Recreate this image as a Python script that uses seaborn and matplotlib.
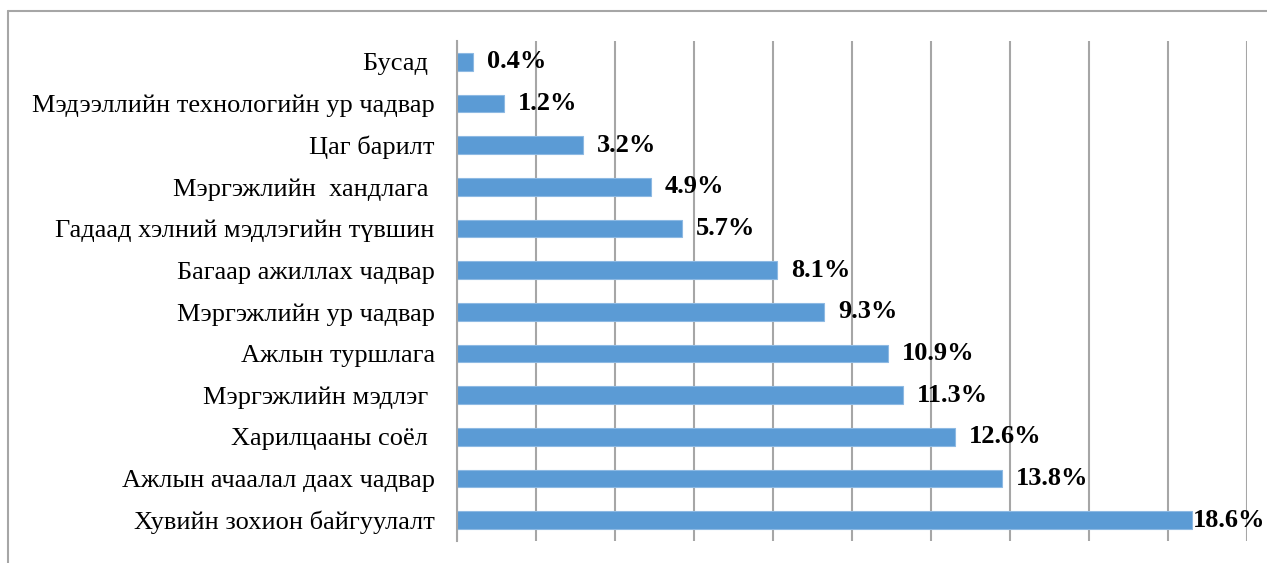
import matplotlib
matplotlib.use("Agg")
import matplotlib.pyplot as plt
import seaborn as sns
import pandas as pd
import numpy as np
from matplotlib.lines import Line2D

categories = [
    "Бусад ",
    "Мэдээллийн технологийн ур чадвар",
    "Цаг барилт",
    "Мэргэжлийн  хандлага ",
    "Гадаад хэлний мэдлэгийн түвшин",
    "Багаар ажиллах чадвар",
    "Мэргэжлийн ур чадвар",
    "Ажлын туршлага",
    "Мэргэжлийн мэдлэг ",
    "Харилцааны соёл ",
    "Ажлын ачаалал даах чадвар",
    "Хувийн зохион байгуулалт",
]
values = [0.4, 1.2, 3.2, 4.9, 5.7, 8.1, 9.3, 10.9, 11.3, 12.6, 13.8, 18.6]
labels = ["0.4%", "1.2%", "3.2%", "4.9%", "5.7%", "8.1%", "9.3%", "10.9%",
          "11.3%", "12.6%", "13.8%", "18.6%"]

df = pd.DataFrame({"cat": categories, "val": values})

sns.set_style("white")
plt.rcParams["font.family"] = ["Liberation Serif", "DejaVu Serif"]

fig = plt.figure(figsize=(12.67, 5.63), dpi=100)
ax = fig.add_axes([457/1267, 1 - 541/563, (1247-457)/1267, (541-41)/563])

sns.barplot(data=df, y="cat", x="val", orient="h", color="#5B9BD5",
            width=0.42, saturation=1, ax=ax, edgecolor="#8DB9E3", linewidth=0.8,
            zorder=3)

ax.set_xlim(0, 20)
ax.set_ylim(len(categories) - 0.5, -0.5)
ax.set_xticks(np.arange(0, 21, 2))
ax.set_xticklabels([])
ax.tick_params(axis="x", length=0)
ax.grid(axis="x", color="#A6A6A6", linewidth=1.5, zorder=0)
ax.grid(axis="y", visible=False)
for s in ["top", "right", "bottom"]:
    ax.spines[s].set_visible(False)
ax.spines["left"].set_color("#A6A6A6")
ax.spines["left"].set_linewidth(1.5)
ax.spines["left"].set_zorder(4)

ax.set_yticks(range(len(categories)))
ax.set_yticklabels(categories, fontsize=19, color="black")
ax.tick_params(axis="y", which="major", length=0, pad=16)
ax.set_yticks(np.arange(-0.5, len(categories), 1), minor=True)
ax.tick_params(axis="y", which="minor", length=6, width=1.5, color="#A6A6A6")
ax.set_xlabel("")
ax.set_ylabel("")

for i, (v, lab) in enumerate(zip(values, labels)):
    off = 10 if v < 18 else 1
    ax.annotate(lab, xy=(v, i), xytext=(off, 0), textcoords="offset points",
                ha="left", va="center", fontsize=19, fontweight="bold",
                color="black", annotation_clip=False)

# outer chart border (partially visible)
fig.add_artist(Line2D([8/1267, 8/1267], [0, 1 - 11/563], transform=fig.transFigure,
                      color="#A6A6A6", linewidth=1.5))
fig.add_artist(Line2D([8/1267, 1.0], [1 - 11/563, 1 - 11/563], transform=fig.transFigure,
                      color="#A6A6A6", linewidth=1.5))

fig.savefig("out.png", dpi=100, facecolor="white")
